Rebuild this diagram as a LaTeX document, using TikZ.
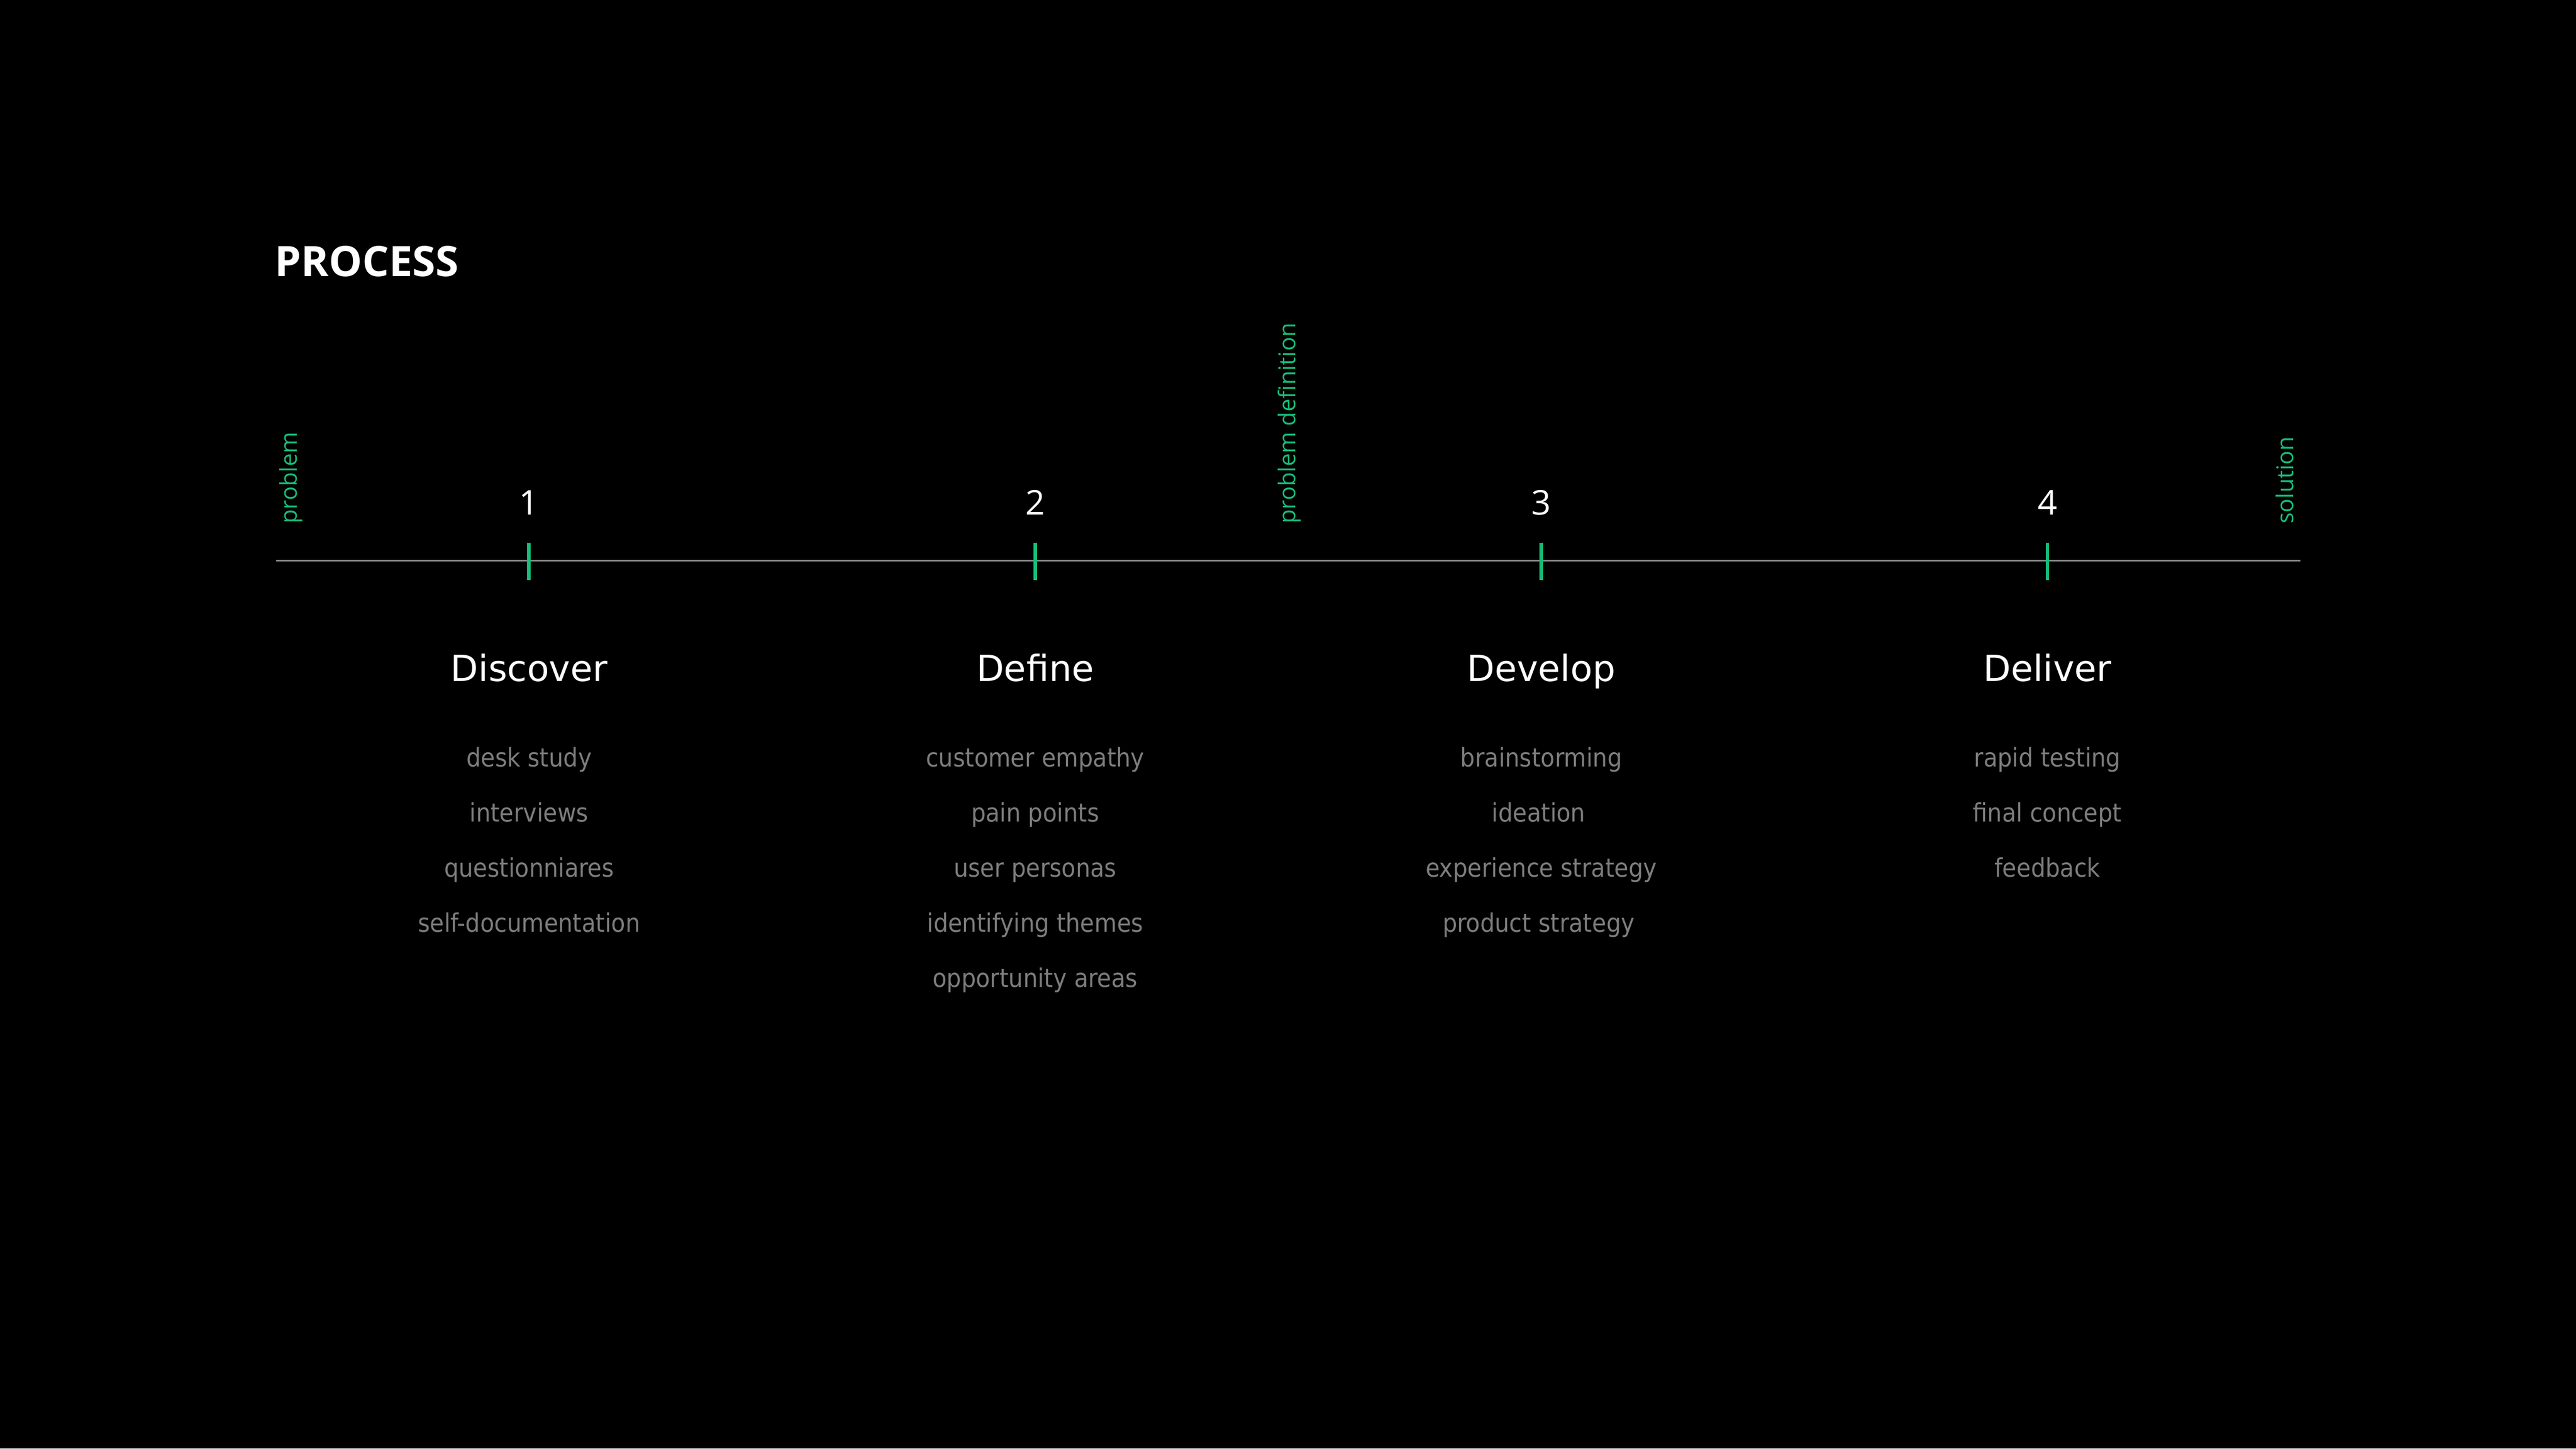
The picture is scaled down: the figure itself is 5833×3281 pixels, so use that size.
\documentclass[tikz,border=0pt]{standalone}
\usepackage{fontspec}
\setmainfont{DejaVu Sans}
\newfontfamily\labelfont{Open Sans}
\newfontfamily\itemfont{DejaVu Sans Condensed}
\definecolor{procgreen}{RGB}{22,190,122}
\definecolor{linegray}{RGB}{136,136,136}
\definecolor{itemgray}{RGB}{125,125,125}

\tikzset{
  phasehead/.style = {text = white, inner sep = 0, anchor = base, font = \fontsize{23.2}{28}\selectfont},
  taskitem/.style = {text = itemgray, inner sep = 0, anchor = base, font = \itemfont\fontsize{16.5}{20}\selectfont},
  stagelabel/.style = {text = procgreen, inner sep = 0, rotate = 90, anchor = base west, font = \labelfont\fontsize{14.9}{17}\selectfont},
  stepnum/.style = {text = white, inner sep = 0, anchor = base, font = \labelfont\fontsize{22}{26}\selectfont},
  stepmark/.style = {draw = procgreen, line width = 2.3pt}
}

\begin{document}
\begin{tikzpicture}[x = 0.01cm, y = -0.01cm]
\fill[black] (0,0) rectangle (5833,3281);
\useasboundingbox (0,0) rectangle (5833,3281);

\node[text = white, inner sep = 0, anchor = base west, font = \labelfont\bfseries\fontsize{27}{32}\selectfont] (title) at (622,626) {PROCESS};

% the time line
\coordinate (start) at (625,1270);
\coordinate (end) at (5209,1270);
\draw[linegray, line width = 1.15pt] (start) -- (end);

\node[stagelabel] (problem) at (673,1187) {problem};
\node[stagelabel] (definition) at (2933,1187) {problem definition};
\node[stagelabel] (solution) at (5193,1187) {solution};

\foreach \i/\x in {1/1198, 2/2344, 3/3490, 4/4636} {
  \coordinate (top\i) at (\x,1229);
  \coordinate (bot\i) at (\x,1313);
  \draw[stepmark] (top\i) -- (bot\i);
  \node[stepnum] (num\i) at (\x,1166) {\i};
}

% phases
\node[phasehead] (discover) at (1198,1543) {Discover};
\node[phasehead] (define) at (2344,1543) {Define};
\node[phasehead] (develop) at (3490,1543) {Develop};
\node[phasehead] (deliver) at (4636,1543) {Deliver};

\node[taskitem] (disc1) at (1198,1736) {desk study};
\node[taskitem] (disc2) at (1198,1861) {interviews};
\node[taskitem] (disc3) at (1198,1986) {questionniares};
\node[taskitem] (disc4) at (1198,2111) {self-documentation};

\node[taskitem] (def1) at (2344,1736) {customer empathy};
\node[taskitem] (def2) at (2344,1861) {pain points};
\node[taskitem] (def3) at (2344,1986) {user personas};
\node[taskitem] (def4) at (2344,2111) {identifying themes};
\node[taskitem] (def5) at (2344,2236) {opportunity areas};

\node[taskitem] (dev1) at (3490,1736) {brainstorming};
\node[taskitem] (dev2) at (3484,1861) {ideation};
\node[taskitem] (dev3) at (3490,1986) {experience strategy};
\node[taskitem] (dev4) at (3484,2111) {product strategy};

\node[taskitem] (del1) at (4636,1736) {rapid testing};
\node[taskitem] (del2) at (4636,1861) {final concept};
\node[taskitem] (del3) at (4636,1986) {feedback};
\end{tikzpicture}
\end{document}
